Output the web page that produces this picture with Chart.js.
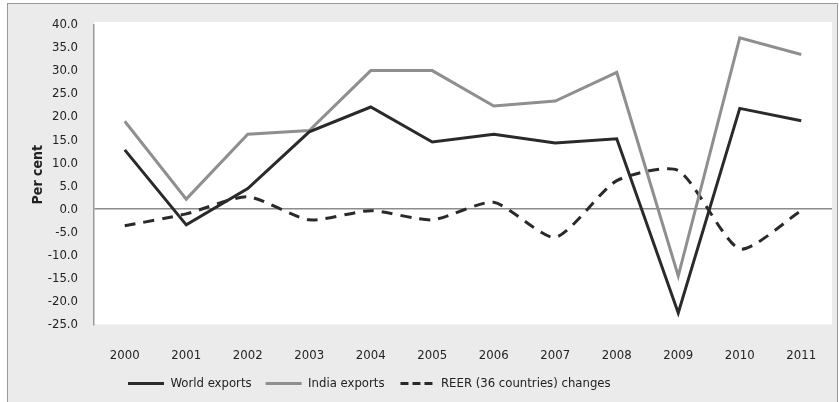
<!DOCTYPE html>
<html>
<head>
<meta charset="utf-8">
<script src="https://cdn.jsdelivr.net/npm/chart.js@4"></script>
<style>
    html, body { margin: 0; padding: 0; background: #ffffff; overflow: hidden; }
    .frame {
        position: absolute; left: 7px; top: 3px; width: 829px; height: 420px;
        background: #ebebeb; border: 1px solid #9a9a9a;
    }
    .chart-container { position: absolute; left: 0; top: 0; width: 839px; height: 402px; }
</style>
</head>
<body>
<div class="frame"></div>
<div class="chart-container"><canvas id="exportChart"></canvas></div>
<script>
const years = ['2000', '2001', '2002', '2003', '2004', '2005', '2006', '2007', '2008', '2009', '2010', '2011'];
const worldExports = [12.9, -3.4, 4.5, 16.8, 22.2, 14.6, 16.3, 14.4, 15.3, -22.5, 21.9, 19.2];
const indiaExports = [19.1, 2.2, 16.3, 17.1, 30.1, 30.1, 22.4, 23.5, 29.7, -14.5, 37.2, 33.6];
const reerChanges = [-3.6, -1.0, 2.7, -2.3, -0.3, -2.3, 1.5, -6.1, 6.2, 8.4, -8.6, -0.3];
const yTicks = { min: -25, max: 40, step: 5 };

const FONT = "'DejaVu Sans Condensed', 'Liberation Sans', sans-serif";

// white plot panel, slightly taller than the scale like the original
const plotBackground = {
    id: 'plotBackground',
    beforeDraw(chart) {
        const { ctx, chartArea } = chart;
        ctx.save();
        ctx.fillStyle = '#ffffff';
        ctx.fillRect(chartArea.left, chartArea.top - 3, chartArea.right - chartArea.left, chartArea.bottom - chartArea.top + 3);
        ctx.restore();
    }
};

// legend sits left of centre in the original
const legendPlace = {
    id: 'legendPlace',
    afterLayout(chart) {
        const lg = chart.legend;
        lg.left = 114;
        lg.top = 363;
    }
};

const ctx = document.getElementById('exportChart').getContext('2d');
new Chart(ctx, {
    type: 'line',
    data: {
        labels: years,
        datasets: [{
            label: 'World exports',
            data: worldExports,
            borderColor: '#2a2a2a',
            backgroundColor: '#2a2a2a',
            borderWidth: 3,
            pointRadius: 0,
            tension: 0
        }, {
            label: 'India exports',
            data: indiaExports,
            borderColor: '#8f8f8f',
            backgroundColor: '#8f8f8f',
            borderWidth: 3,
            pointRadius: 0,
            tension: 0
        }, {
            label: 'REER (36 countries) changes',
            data: reerChanges,
            borderColor: '#2a2a2a',
            backgroundColor: '#2a2a2a',
            borderWidth: 3,
            borderDash: [11, 8],
            pointRadius: 0,
            tension: 0.22
        }]
    },
    options: {
        responsive: true,
        maintainAspectRatio: false,
        animation: false,
        layout: { padding: { left: 5, right: 7, top: 25, bottom: 0 } },
        plugins: {
            legend: {
                position: 'bottom',
                align: 'start',
                maxHeight: 24,
                labels: {
                    usePointStyle: true,
                    pointStyle: 'line',
                    pointStyleWidth: 36,
                    boxHeight: 12,
                    padding: 14,
                    color: '#222222',
                    font: { family: FONT, size: 13 },
                    // the line marker path runs out and back, so pick a dash that lands on itself
                    generateLabels(chart) {
                        const items = Chart.defaults.plugins.legend.labels.generateLabels(chart);
                        items.forEach(item => {
                            const ds = chart.data.datasets[item.datasetIndex];
                            item.lineWidth = 3;
                            if (ds.borderDash) {
                                item.lineDash = [8, 4];
                                item.lineDashOffset = 10;
                            }
                        });
                        return items;
                    }
                }
            },
            tooltip: { enabled: false }
        },
        scales: {
            x: {
                offset: true,
                grid: { display: false },
                border: { display: false },
                ticks: { color: '#222222', font: { family: FONT, size: 13 }, padding: 15, maxRotation: 0 }
            },
            y: {
                min: yTicks.min,
                max: yTicks.max,
                afterFit(scale) { scale.width = 89; },
                title: {
                    display: true,
                    text: 'Per cent',
                    color: '#222222',
                    font: { family: FONT, size: 14, weight: 'bold' },
                    padding: { top: 25, bottom: 0 }
                },
                grid: {
                    drawTicks: false,
                    color: (c) => c.tick && c.tick.value === 0 ? '#8c8c8c' : 'rgba(0,0,0,0)',
                    lineWidth: 1.5
                },
                border: { display: true, color: '#9a9a9a', width: 1.5 },
                ticks: {
                    stepSize: yTicks.step,
                    padding: 16,
                    color: '#222222',
                    font: { family: FONT, size: 13 },
                    callback: (v) => v.toFixed(1)
                }
            }
        }
    },
    plugins: [plotBackground, legendPlace]
});
</script>
</body>
</html>
